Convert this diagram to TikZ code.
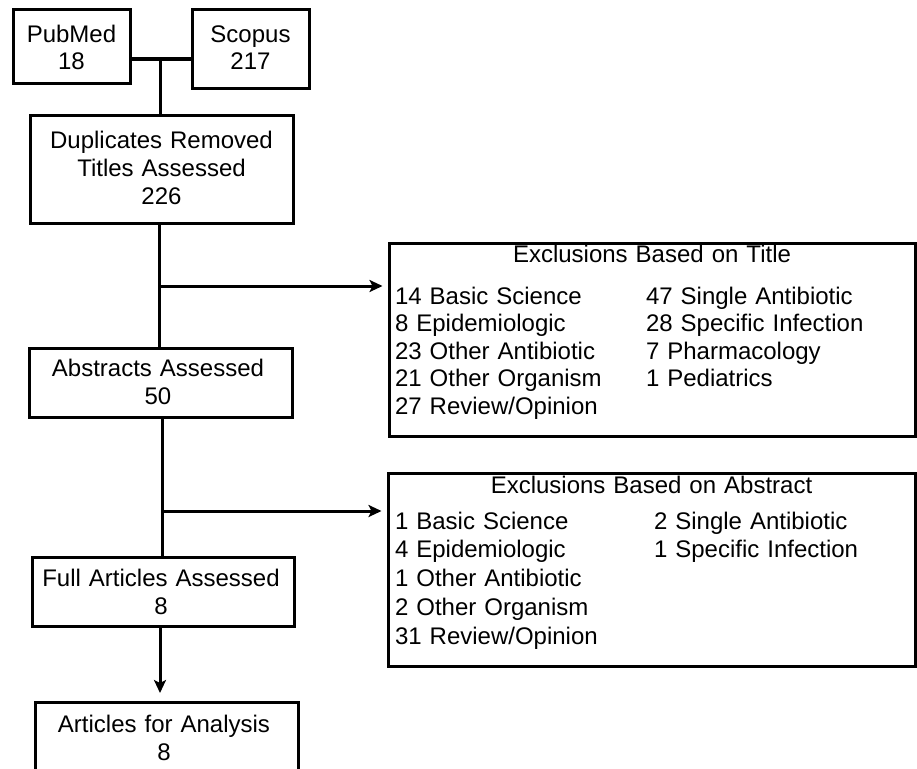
\documentclass[tikz,border=0pt]{standalone}
\usepackage{fontspec}
\setmainfont{Liberation Sans}
\usetikzlibrary{arrows.meta}
\begin{document}
\begin{tikzpicture}[x=1pt,y=-1pt,
  box/.style={draw=black, line width=3pt, inner sep=0pt, outer sep=0pt},
  txt/.style={font=\fontsize{24}{28}\selectfont, inner sep=0pt, outer sep=0pt, anchor=base, align=center, text width=270pt},
  lst/.style={font=\fontsize{24}{27.5}\selectfont, inner sep=0pt, outer sep=0pt, anchor=base west, align=left, text width=240pt},
  lstb/.style={lst, font=\fontsize{24}{28.8}\selectfont},
  conn/.style={draw=black, line width=3pt},
  arr/.style={conn, -{Stealth[length=13pt,width=12pt,inset=3pt]}}]
\useasboundingbox (0,0) rectangle (917,768);
\clip (0,0) rectangle (917,768);
\fill[white] (0,0) rectangle (917,768);

% main column boxes
\node[box, minimum width=117pt, minimum height=73pt] (pub) at (71.5,46.5) {};
\node[txt] (pubt) at (71.5,42) {PubMed\\18};
\node[box, minimum width=117pt, minimum height=78pt] (sco) at (250.5,49) {};
\node[txt] (scot) at (250.5,42) {Scopus\\217};
\node[box, minimum width=263pt, minimum height=108pt] (dup) at (161.5,169) {};
\node[txt] (dupt) at (161.5,148) {Duplicates Removed\\Titles Assessed\\226};
\node[box, minimum width=263pt, minimum height=69pt] (abs) at (160.5,382.5) {};
\node[txt] (abst) at (158,376) {Abstracts Assessed\\50};
\node[box, minimum width=262pt, minimum height=69pt] (full) at (163,591.5) {};
\node[txt] (fullt) at (161,586) {Full Articles Assessed\\8};
\node[box, minimum width=263pt, minimum height=90pt] (ana) at (166.5,747) {};
\node[txt] (anat) at (164,732) {Articles for Analysis\\8};

% exclusion boxes
\node[box, minimum width=526pt, minimum height=193pt] (extit) at (652,339.5) {};
\node[txt, text width=500pt] (extitt) at (652,262) {Exclusions Based on Title};
\node[lst] (extitl) at (395,304) {14 Basic Science\\8 Epidemiologic\\23 Other Antibiotic\\21 Other Organism\\27 Review/Opinion};
\node[lst] (extitr) at (646,304) {47 Single Antibiotic\\28 Specific Infection\\7 Pharmacology\\1 Pediatrics};

\node[box, minimum width=527pt, minimum height=193pt] (exabs) at (651.5,569.5) {};
\node[txt, text width=500pt] (exabst) at (651.5,493) {Exclusions Based on Abstract};
\node[lstb] (exabsl) at (395,529) {1 Basic Science\\4 Epidemiologic\\1 Other Antibiotic\\2 Other Organism\\31 Review/Opinion};
\node[lstb] (exabsr) at (654,529) {2 Single Antibiotic\\1 Specific Infection};

% connectors
\coordinate (m) at (160,59);
\draw[conn] (m -| pub.east) -- (m -| sco.west);
\draw[conn] (m) -- (m |- dup.north);

\coordinate (c1) at (159,286);
\draw[conn] (c1 |- dup.south) -- (c1 |- abs.north);
\draw[arr, shorten >=6.5pt] (c1) -- (c1 -| extit.west);

\coordinate (c2) at (162,511);
\draw[conn] (c2 |- abs.south) -- (c2 |- full.north);
\draw[arr, shorten >=6.5pt] (c2) -- (c2 -| exabs.west);

\coordinate (c3) at (160,626);
\draw[arr, shorten >=9pt] (c3 |- full.south) -- (c3 |- ana.north);
\end{tikzpicture}
\end{document}
